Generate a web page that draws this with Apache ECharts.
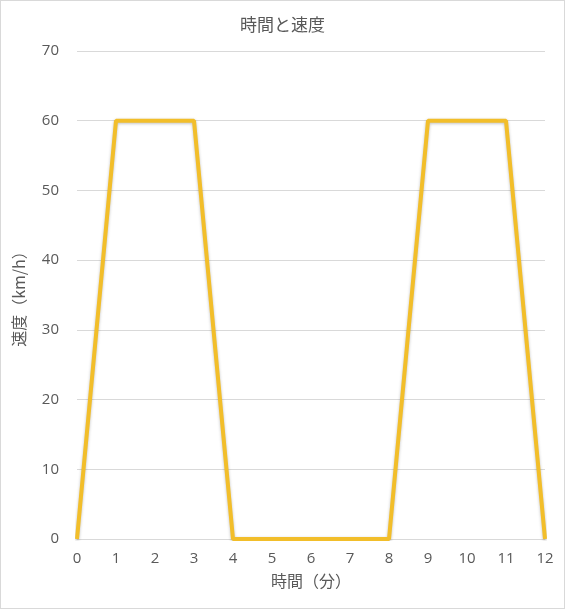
<!DOCTYPE html>
<html><head><meta charset="utf-8">
<script src="https://cdn.jsdelivr.net/npm/echarts@6/dist/echarts.min.js"></script>
<style>html,body{margin:0;padding:0;background:#fff}#c{width:563px;height:607px;border:1px solid #d9d9d9}</style>
</head><body><div id="c"></div>
<script>
var minutes = [0,1,2,3,4,5,6,7,8,9,10,11,12];
var speeds = [0,60,60,60,0,0,0,0,0,60,60,60,0];
var titleText = '時間と速度';
var xName = '時間（分）';
var yName = '速度（km/h）';
var font = '"Noto Sans CJK JP", "Open Sans", sans-serif';
var numFont = '"Open Sans", "Noto Sans", sans-serif';
var chart = echarts.init(document.getElementById('c'));
chart.setOption({
  animation:false,
  title:{text:titleText,left:'center',top:10,textStyle:{fontFamily:font,fontSize:17,fontWeight:'normal',color:'#595959'}},
  grid:{left:76,right:19,top:50,bottom:69},
  xAxis:{type:'value',min:0,max:12,interval:1,name:xName,nameLocation:'middle',nameGap:34,
    nameTextStyle:{fontFamily:font,fontSize:16,color:'#595959'},
    axisLine:{lineStyle:{color:'#d9d9d9'}},axisTick:{show:false},splitLine:{show:false},
    axisLabel:{fontFamily:numFont,fontSize:15,color:'#595959',margin:12}},
  yAxis:{type:'value',min:0,max:70,interval:10,name:yName,nameLocation:'middle',nameGap:50,
    nameTextStyle:{fontFamily:font,fontSize:16,color:'#595959'},
    axisLine:{show:false},axisTick:{show:false},
    splitLine:{lineStyle:{color:'#d9d9d9'}},
    axisLabel:{fontFamily:numFont,fontSize:15,color:'#595959',margin:18}},
  series:[{type:'line',data:minutes.map(function(m,i){return [m,speeds[i]];}),symbol:'none',
    lineStyle:{color:'#F2BE2A',width:4,shadowColor:'rgba(0,0,0,0.25)',shadowBlur:3,shadowOffsetY:1}}]
});
</script></body></html>
